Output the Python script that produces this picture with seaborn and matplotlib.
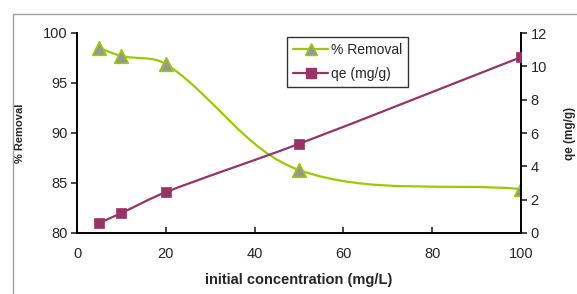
import numpy as np
import pandas as pd
import matplotlib
matplotlib.use("Agg")
import matplotlib.pyplot as plt
from matplotlib.path import Path
from matplotlib.patches import PathPatch, Rectangle
from matplotlib.lines import Line2D
import seaborn as sns

# data
concentration = [5, 10, 20, 50, 100]
removal = [98.5, 97.7, 96.9, 86.3, 84.4]
qe = [0.6, 1.2, 2.45, 5.35, 10.55]

green = "#99CC00"
purple = "#993366"

sns.set_style("white")
plt.rcParams["font.family"] = ["Liberation Sans", "DejaVu Sans"]

df = pd.DataFrame({"conc": concentration, "removal": removal, "qe": qe})


def smooth_path(a, x, y):
    # smoothed line like Excel: Bezier through the points, worked out in
    # screen space with control arms limited to a third of each segment
    pts = a.transData.transform(np.column_stack([x, y]).astype(float))
    n = len(pts)
    tang = []
    for i in range(n):
        d = pts[min(i + 1, n - 1)] - pts[max(i - 1, 0)]
        tang.append(d / np.linalg.norm(d))
    verts = [pts[0]]
    codes = [Path.MOVETO]
    for i in range(n - 1):
        seg = np.linalg.norm(pts[i + 1] - pts[i]) / 3.0
        c1 = pts[i] + tang[i] * seg
        c2 = pts[i + 1] - tang[i + 1] * seg
        verts += [c1, c2, pts[i + 1]]
        codes += [Path.CURVE4] * 3
    verts = a.transData.inverted().transform(np.array(verts))
    return Path(verts, codes)


fig = plt.figure(figsize=(5.77, 2.94), dpi=100)
ax = fig.add_axes([77 / 577, 1 - 233 / 294, 444 / 577, 200 / 294])
ax2 = ax.twinx()

ax.set_xlim(0, 100)
ax.set_ylim(80, 100)
ax2.set_ylim(0, 12)

# % Removal on the left axis
ax.add_patch(PathPatch(smooth_path(ax, df["conc"], df["removal"]), fill=False,
                       edgecolor=green, linewidth=1.6, zorder=2))
sns.scatterplot(data=df, x="conc", y="removal", ax=ax, marker="^", s=95,
                color="#969696", edgecolor=green, linewidth=1.2, zorder=3,
                legend=False)

# qe on the right axis
ax2.add_patch(PathPatch(smooth_path(ax2, df["conc"], df["qe"]), fill=False,
                        edgecolor=purple, linewidth=1.6, zorder=2))
sns.scatterplot(data=df, x="conc", y="qe", ax=ax2, marker="s", s=60,
                color=purple, edgecolor=purple, linewidth=0.5, zorder=3,
                legend=False)

ax.set_xticks(range(0, 101, 20))
ax.set_yticks(range(80, 101, 5))
ax2.set_yticks(range(0, 13, 2))

for a in (ax, ax2):
    a.spines["top"].set_visible(False)
    for s in ("left", "right", "bottom"):
        a.spines[s].set_color("black")
        a.spines[s].set_linewidth(1.4)
ax.spines["right"].set_visible(False)
ax2.spines["left"].set_visible(False)
ax2.spines["bottom"].set_visible(False)

ax.tick_params(axis="y", direction="out", length=4, width=1.2, labelsize=10.5, pad=3, left=True)
ax.tick_params(axis="x", direction="in", length=4, width=1.2, labelsize=10.5, pad=10, bottom=True)
ax2.tick_params(axis="y", direction="out", length=4, width=1.2, labelsize=10.5, pad=3, right=True)

ax.set_xlabel("initial concentration (mg/L)", fontsize=10.5, fontweight="bold")
ax.xaxis.set_label_coords(0.5, -0.2)
ax.set_ylabel("% Removal", fontsize=8, fontweight="bold")
ax.yaxis.set_label_coords(-0.117, 0.5)
ax2.set_ylabel("qe (mg/g)", fontsize=8.5, fontweight="bold")
ax2.yaxis.set_label_coords(1.097, 0.5)

handles = [
    Line2D([], [], color=green, linewidth=1.6, marker="^", markersize=8,
           markerfacecolor="#969696", markeredgecolor=green),
    Line2D([], [], color=purple, linewidth=1.6, marker="s", markersize=6.5,
           markerfacecolor=purple, markeredgecolor=purple),
]
leg = fig.legend(handles, ["% Removal", "qe (mg/g)"], loc="upper left",
                 bbox_to_anchor=(287 / 577, 1 - 37 / 294), fontsize=10,
                 frameon=True, fancybox=False, edgecolor="black",
                 borderpad=0.45, handlelength=2.5, handletextpad=0.2,
                 labelspacing=0.7, borderaxespad=0)
leg.get_frame().set_linewidth(1.0)

# light grey frame of the chart area, cut by the image edges
fig.add_artist(Rectangle((13 / 577, -0.1), 1.2, 1 - 14 / 294 + 0.1,
                         transform=fig.transFigure, fill=False,
                         edgecolor="#a0a0a0", linewidth=1.0))

fig.savefig("out.png", dpi=100)
